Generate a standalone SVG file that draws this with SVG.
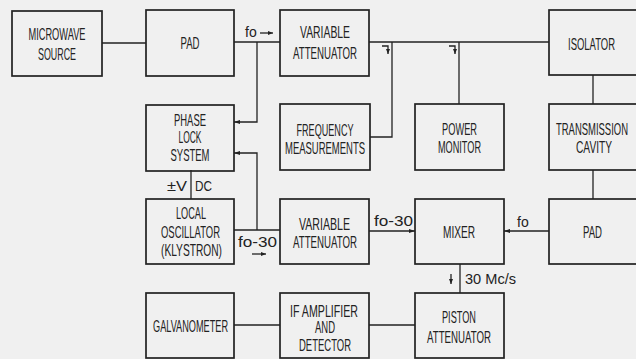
<svg xmlns="http://www.w3.org/2000/svg" width="636" height="359" viewBox="0 0 636 359">
<defs>
<marker id="ah" viewBox="0 0 10 10" refX="10" refY="5" markerWidth="6" markerHeight="6" orient="auto" markerUnits="userSpaceOnUse"><path d="M0,1.5 L10,5 L0,8.5 Z" fill="#222"/></marker>
<marker id="sa" viewBox="0 0 10 10" refX="10" refY="5" markerWidth="5" markerHeight="5" orient="auto" markerUnits="userSpaceOnUse"><path d="M0,1 L10,5 L0,9 Z" fill="#222"/></marker>
</defs>
<style>
.box{fill:none;stroke:#222;stroke-width:1.7}
.ln{fill:none;stroke:#222;stroke-width:1.3}
.t{font-family:"Liberation Sans",Arial,sans-serif;font-size:17px;fill:#222;text-anchor:middle}
.l{font-family:"Liberation Sans",Arial,sans-serif;font-size:14px;fill:#222}
</style>
<rect x="0" y="0" width="636" height="359" fill="#f0f0f0"/>

<g id="connectors">
<path class="ln" d="M102,43 H146"/>
<path class="ln" d="M234,42 H280"/>
<path class="ln" d="M369,42 H549"/>
<path class="ln" d="M392,42 V137 H370"/>
<path class="ln" d="M459,42 V104"/>
<path class="ln" d="M593,75 V104"/>
<path class="ln" d="M593,170 V199"/>
<path class="ln" d="M549,231 H504" marker-end="url(#ah)"/>
<path class="ln" d="M369,231 H415" marker-end="url(#ah)"/>
<path class="ln" d="M234,230 H280"/>
<path class="ln" d="M257,42 V122 H234" marker-end="url(#ah)"/>
<path class="ln" d="M257,230 V153 H234" marker-end="url(#ah)"/>
<path class="ln" d="M191,170 V199"/>
<path class="ln" d="M460,264 V293"/>
<path class="ln" d="M369,325 H415"/>
<path class="ln" d="M234,325 H280"/>
</g>

<g id="labels">
<text class="l" x="245" y="37">fo</text>
<path class="ln" d="M260,33 H273" marker-end="url(#sa)"/>
<path class="ln" d="M382,46 H388 V54" marker-end="url(#sa)"/>
<path class="ln" d="M449,46 H455 V54" marker-end="url(#sa)"/>
<text class="l" x="374" y="226" textLength="39" lengthAdjust="spacingAndGlyphs">fo-30</text>
<text class="l" x="517" y="227">fo</text>
<text class="l" x="238" y="247" textLength="39" lengthAdjust="spacingAndGlyphs">fo-30</text>
<path class="ln" d="M252,254 H266" marker-end="url(#sa)"/>
<text class="l" x="167" y="191" textLength="20" lengthAdjust="spacingAndGlyphs">±V</text>
<text class="l" x="195" y="191" textLength="17" lengthAdjust="spacingAndGlyphs">DC</text>
<path class="ln" d="M451,274 V284" marker-end="url(#sa)"/>
<text class="l" x="465" y="284" textLength="51" lengthAdjust="spacingAndGlyphs">30 Mc/s</text>
</g>

<g id="microwave-source">
<rect class="box" x="12" y="11" width="90" height="65"/>
<text class="t" x="57" y="40" textLength="57" lengthAdjust="spacingAndGlyphs">MICROWAVE</text>
<text class="t" x="57" y="60" textLength="38" lengthAdjust="spacingAndGlyphs">SOURCE</text>
</g>
<g id="pad1">
<rect class="box" x="146" y="10" width="88" height="66"/>
<text class="t" x="190" y="49" textLength="19" lengthAdjust="spacingAndGlyphs">PAD</text>
</g>
<g id="variable-attenuator-1">
<rect class="box" x="280" y="10" width="89" height="66"/>
<text class="t" x="325" y="38" textLength="50" lengthAdjust="spacingAndGlyphs">VARIABLE</text>
<text class="t" x="325" y="59" textLength="64" lengthAdjust="spacingAndGlyphs">ATTENUATOR</text>
</g>
<g id="isolator">
<rect class="box" x="549" y="10" width="100" height="65"/>
<text class="t" x="591.5" y="50" textLength="47" lengthAdjust="spacingAndGlyphs">ISOLATOR</text>
</g>
<g id="phase-lock-system">
<rect class="box" x="146" y="105" width="88" height="66"/>
<text class="t" x="190" y="126" textLength="32" lengthAdjust="spacingAndGlyphs">PHASE</text>
<text class="t" x="190" y="143" textLength="23" lengthAdjust="spacingAndGlyphs">LOCK</text>
<text class="t" x="190" y="161" textLength="39" lengthAdjust="spacingAndGlyphs">SYSTEM</text>
</g>
<g id="frequency-measurements">
<rect class="box" x="280" y="104" width="90" height="66"/>
<text class="t" x="325" y="136" textLength="57" lengthAdjust="spacingAndGlyphs">FREQUENCY</text>
<text class="t" x="325" y="154" textLength="80" lengthAdjust="spacingAndGlyphs">MEASUREMENTS</text>
</g>
<g id="power-monitor">
<rect class="box" x="415" y="104" width="89" height="66"/>
<text class="t" x="459.5" y="135" textLength="35" lengthAdjust="spacingAndGlyphs">POWER</text>
<text class="t" x="459.5" y="153" textLength="43" lengthAdjust="spacingAndGlyphs">MONITOR</text>
</g>
<g id="transmission-cavity">
<rect class="box" x="549" y="104" width="100" height="66"/>
<text class="t" x="592" y="135" textLength="72" lengthAdjust="spacingAndGlyphs">TRANSMISSION</text>
<text class="t" x="594" y="153" textLength="36" lengthAdjust="spacingAndGlyphs">CAVITY</text>
</g>
<g id="local-oscillator">
<rect class="box" x="146" y="199" width="88" height="65"/>
<text class="t" x="191" y="219" textLength="30" lengthAdjust="spacingAndGlyphs">LOCAL</text>
<text class="t" x="190.5" y="238" textLength="59" lengthAdjust="spacingAndGlyphs">OSCILLATOR</text>
<text class="t" x="191.5" y="256" textLength="61" lengthAdjust="spacingAndGlyphs">(KLYSTRON)</text>
</g>
<g id="variable-attenuator-2">
<rect class="box" x="280" y="199" width="89" height="65"/>
<text class="t" x="324.5" y="230" textLength="51" lengthAdjust="spacingAndGlyphs">VARIABLE</text>
<text class="t" x="325" y="248" textLength="64" lengthAdjust="spacingAndGlyphs">ATTENUATOR</text>
</g>
<g id="mixer">
<rect class="box" x="415" y="199" width="89" height="65"/>
<text class="t" x="459" y="238" textLength="32" lengthAdjust="spacingAndGlyphs">MIXER</text>
</g>
<g id="pad2">
<rect class="box" x="549" y="199" width="100" height="65"/>
<text class="t" x="592.5" y="238" textLength="19" lengthAdjust="spacingAndGlyphs">PAD</text>
</g>
<g id="galvanometer">
<rect class="box" x="146" y="293" width="88" height="65"/>
<text class="t" x="190.5" y="332" textLength="75" lengthAdjust="spacingAndGlyphs">GALVANOMETER</text>
</g>
<g id="if-amplifier">
<rect class="box" x="280" y="293" width="89" height="65"/>
<text class="t" x="324" y="317" textLength="68" lengthAdjust="spacingAndGlyphs">IF AMPLIFIER</text>
<text class="t" x="325" y="333" textLength="20" lengthAdjust="spacingAndGlyphs">AND</text>
<text class="t" x="325" y="351" textLength="52" lengthAdjust="spacingAndGlyphs">DETECTOR</text>
</g>
<g id="piston-attenuator">
<rect class="box" x="415" y="293" width="89" height="65"/>
<text class="t" x="459" y="323" textLength="34" lengthAdjust="spacingAndGlyphs">PISTON</text>
<text class="t" x="459" y="343" textLength="64" lengthAdjust="spacingAndGlyphs">ATTENUATOR</text>
</g>
</svg>
